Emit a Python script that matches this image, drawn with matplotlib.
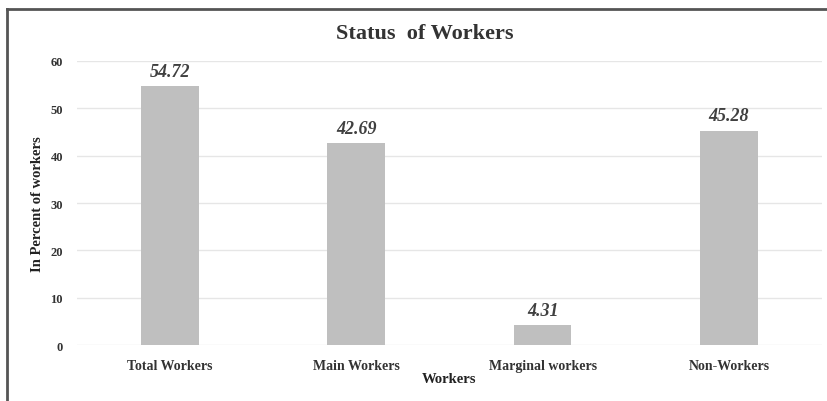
import matplotlib
matplotlib.use("Agg")
import matplotlib.pyplot as plt
from matplotlib.lines import Line2D

categories = ["Total Workers", "Main Workers", "Marginal workers", "Non-Workers"]
values = [54.72, 42.69, 4.31, 45.28]
value_labels = ["54.72", "42.69", "4.31", "45.28"]
yticks = [0, 10, 20, 30, 40, 50, 60]

plt.rcParams['font.family'] = ['Liberation Serif', 'DejaVu Serif']

fig = plt.figure(figsize=(8.27, 4.02), dpi=100)
fig.patch.set_facecolor('white')
ax = fig.add_axes([0.093, 0.139, 0.901, 0.707])

x = range(len(categories))
ax.bar(x, values, width=0.31, color='#BFBFBF', zorder=3)
for xi, v, lab in zip(x, values, value_labels):
    ax.text(xi, v + 1.3, lab, ha='center', va='bottom', fontsize=13,
            fontstyle='italic', fontweight='bold', color='#404040')

ax.set_ylim(0, 60)
ax.set_xlim(-0.5, 3.5)
ax.set_yticks(yticks)
ax.set_yticklabels([str(t) for t in yticks], fontsize=9, fontweight='bold', color='#333333')
ax.set_xticks(list(x))
ax.set_xticklabels(categories, fontsize=10, fontweight='bold', color='#333333')
ax.tick_params(axis='y', length=0, pad=10)
ax.tick_params(axis='x', length=0, pad=10)
ax.grid(axis='y', color='#E6E6E6', linewidth=1, zorder=0)
for s in ax.spines.values():
    s.set_visible(False)
ax.set_xlabel("Workers", fontsize=10.5, fontweight='bold', labelpad=0, color='#222222')
ax.set_ylabel("In Percent of workers", fontsize=10.5, fontweight='bold', labelpad=5, color='#222222')

fig.text(0.513, 0.915, "Status  of Workers", ha='center', va='center', fontsize=16,
         fontweight='bold', color='#333333')

# outer frame (top and left edges visible)
fig.add_artist(Line2D([7/827, 7/827], [0, 1 - 10/402], transform=fig.transFigure,
                      color='#555555', linewidth=2))
fig.add_artist(Line2D([7/827, 1], [1 - 10/402, 1 - 10/402], transform=fig.transFigure,
                      color='#555555', linewidth=2))

fig.savefig("out.png", dpi=100)
